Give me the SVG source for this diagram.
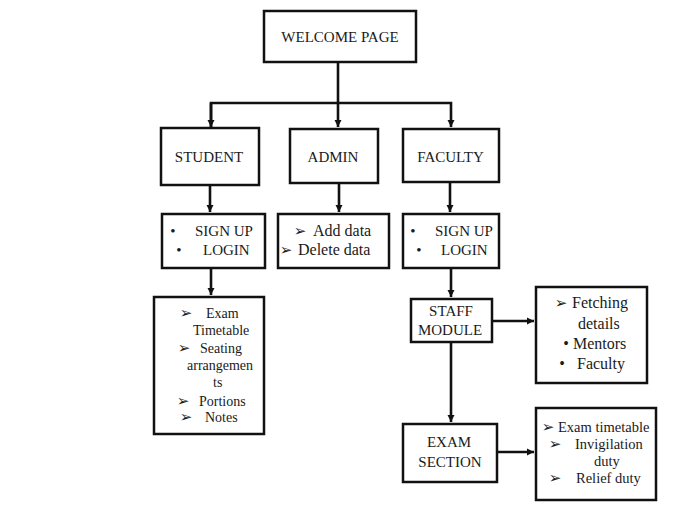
<svg xmlns="http://www.w3.org/2000/svg" width="691" height="506" viewBox="0 0 691 506">
<style>
.box{fill:#fff;stroke:#111;stroke-width:2.5}
.t{font-family:"Liberation Serif","Times New Roman",serif;fill:#1a1a1a}
.cap{font-size:15px;text-anchor:middle}
.s16{font-size:16px}
.s15{font-size:15px}
.s14{font-size:14.5px}
.s13{font-size:14px}
.ar{font-family:"DejaVu Sans",sans-serif;font-size:15px;text-anchor:middle;fill:#1a1a1a}
.c{fill:none;stroke:#111;stroke-width:2.6}
</style>
<defs>
<marker id="ah" markerUnits="userSpaceOnUse" markerWidth="8" markerHeight="8" refX="7" refY="4" orient="auto">
<path d="M0,0.5 L7,4 L0,7.5 Z" fill="#111"/>
</marker>
</defs>
<rect width="691" height="506" fill="#fff"/>
<g id="connectors">
<path class="c" d="M338,62 V127" marker-end="url(#ah)"/>
<path class="c" d="M211,127 V103 H451 V127" marker-end="url(#ah)"/>
<path class="c" d="M211,103 V127" marker-end="url(#ah)"/>
<path class="c" d="M210,185 V212" marker-end="url(#ah)"/>
<path class="c" d="M339,183 V212" marker-end="url(#ah)"/>
<path class="c" d="M450,182 V212" marker-end="url(#ah)"/>
<path class="c" d="M211,268 V295" marker-end="url(#ah)"/>
<path class="c" d="M451,268 V297" marker-end="url(#ah)"/>
<path class="c" d="M492,321 H534" marker-end="url(#ah)"/>
<path class="c" d="M451,342 V422" marker-end="url(#ah)"/>
<path class="c" d="M497,452 H534" marker-end="url(#ah)"/>
</g>
<g id="welcome">
<rect class="box" x="264" y="11" width="152" height="51"/>
<text class="t cap" x="340" y="42" font-size="14.5">WELCOME PAGE</text>
</g>
<g id="student">
<rect class="box" x="161" y="128" width="98" height="57"/>
<text class="t cap" x="209" y="162">STUDENT</text>
</g>
<g id="admin">
<rect class="box" x="290" y="129" width="88" height="54"/>
<text class="t cap" x="333" y="162">ADMIN</text>
</g>
<g id="faculty">
<rect class="box" x="403" y="129" width="96" height="53"/>
<text class="t cap" x="450.5" y="162">FACULTY</text>
</g>
<g id="student-login">
<rect class="box" x="162" y="214" width="103" height="54"/>
<text class="t s15" x="173" y="236" text-anchor="middle">•</text>
<text class="t s15" x="195" y="236">SIGN UP</text>
<text class="t s15" x="179" y="255" text-anchor="middle">•</text>
<text class="t s15" x="203" y="255">LOGIN</text>
</g>
<g id="admin-actions">
<rect class="box" x="278" y="214" width="111" height="54"/>
<text class="ar" x="300" y="236">➢</text>
<text class="t s16" x="313" y="236">Add data</text>
<text class="ar" x="286" y="255">➢</text>
<text class="t s16" x="298" y="255">Delete data</text>
</g>
<g id="faculty-login">
<rect class="box" x="403" y="214" width="96" height="54"/>
<text class="t s15" x="413" y="236" text-anchor="middle">•</text>
<text class="t s15" x="435" y="236">SIGN UP</text>
<text class="t s15" x="419" y="255" text-anchor="middle">•</text>
<text class="t s15" x="441" y="255">LOGIN</text>
</g>
<g id="student-details">
<rect class="box" x="154" y="297" width="110" height="137"/>
<text class="ar" x="186" y="318">➢</text>
<text class="t s13" x="206" y="318">Exam</text>
<text class="t s13" x="193" y="335">Timetable</text>
<text class="ar" x="184" y="353">➢</text>
<text class="t s13" x="200" y="353">Seating</text>
<text class="t s13" x="187" y="370">arrangemen</text>
<text class="t s13" x="213" y="387">ts</text>
<text class="ar" x="183" y="406">➢</text>
<text class="t s13" x="199" y="406">Portions</text>
<text class="ar" x="186" y="422">➢</text>
<text class="t s13" x="205" y="422">Notes</text>
</g>
<g id="staff-module">
<rect class="box" x="411" y="299" width="81" height="43"/>
<text class="t cap" x="451" y="316">STAFF</text>
<text class="t cap" x="450" y="335">MODULE</text>
</g>
<g id="staff-details">
<rect class="box" x="536" y="287" width="111" height="96"/>
<text class="ar" x="561" y="308">➢</text>
<text class="t s16" x="572" y="308">Fetching</text>
<text class="t s16" x="578" y="329">details</text>
<text class="t s16" x="566" y="349" text-anchor="middle">•</text>
<text class="t s16" x="573" y="349">Mentors</text>
<text class="t s16" x="562" y="369" text-anchor="middle">•</text>
<text class="t s16" x="577" y="369">Faculty</text>
</g>
<g id="exam-section">
<rect class="box" x="403" y="424" width="94" height="58"/>
<text class="t cap" x="449" y="447">EXAM</text>
<text class="t cap" x="450" y="467">SECTION</text>
</g>
<g id="exam-details">
<rect class="box" x="536" y="408" width="120" height="92"/>
<text class="ar" x="548" y="432">➢</text>
<text class="t s14" x="558" y="432">Exam timetable</text>
<text class="ar" x="555" y="449">➢</text>
<text class="t s14" x="575" y="449">Invigilation</text>
<text class="t s14" x="594" y="466">duty</text>
<text class="ar" x="555" y="483">➢</text>
<text class="t s14" x="576" y="483">Relief duty</text>
</g>
</svg>
